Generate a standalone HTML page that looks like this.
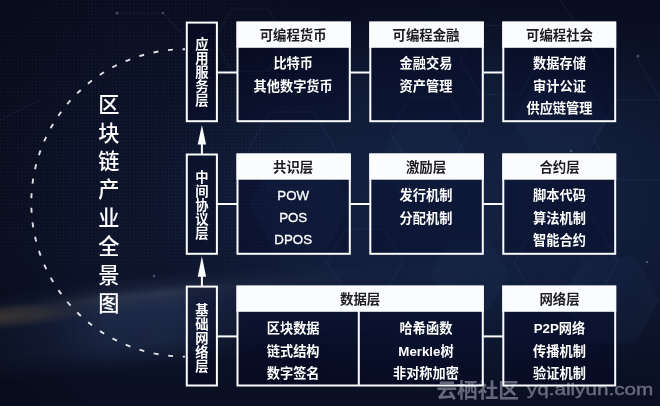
<!DOCTYPE html>
<html lang="zh-CN">
<head>
<meta charset="utf-8">
<title>区块链产业全景图</title>
<style>
html,body{margin:0;padding:0;background:#0b1230;}
body{width:660px;height:406px;overflow:hidden;font-family:"Liberation Sans","Noto Sans CJK SC",sans-serif;}
svg{display:block;will-change:transform;}
svg text{font-family:"Liberation Sans","Noto Sans CJK SC",sans-serif;}
</style>
</head>
<body>
<svg width="660" height="406" viewBox="0 0 660 406" role="img" aria-label="区块链产业全景图">
<defs>
<linearGradient id="bgv" x1="0" y1="0" x2="0" y2="1">
<stop offset="0" stop-color="#090d1f"/>
<stop offset="0.35" stop-color="#0c1329"/>
<stop offset="0.7" stop-color="#0d142b"/>
<stop offset="1" stop-color="#0a0f22"/>
</linearGradient>
<radialGradient id="glow" cx="460" cy="195" r="320" gradientUnits="userSpaceOnUse" gradientTransform="translate(460 195) scale(1 .62) translate(-460 -195)">
<stop offset="0" stop-color="#1a3058" stop-opacity=".5"/>
<stop offset="0.55" stop-color="#1a3058" stop-opacity=".34"/>
<stop offset="1" stop-color="#1a3058" stop-opacity="0"/>
</radialGradient>
<linearGradient id="hz" gradientUnits="userSpaceOnUse" x1="0" y1="290" x2="0" y2="385" gradientTransform="rotate(-6 0 310)">
<stop offset="0" stop-color="#6c7c9c" stop-opacity="0"/>
<stop offset="0.12" stop-color="#6c7c9c" stop-opacity=".1"/>
<stop offset="0.21" stop-color="#7c8ca8" stop-opacity=".27"/>
<stop offset="0.29" stop-color="#4a5e82" stop-opacity=".36"/>
<stop offset="0.38" stop-color="#30426a" stop-opacity=".48"/>
<stop offset="0.72" stop-color="#2a3c60" stop-opacity=".46"/>
<stop offset="1" stop-color="#283a5c" stop-opacity="0"/>
</linearGradient>
<linearGradient id="hzm" x1="0" y1="0" x2="1" y2="0">
<stop offset="0" stop-color="#fff" stop-opacity=".3"/>
<stop offset="0.08" stop-color="#fff" stop-opacity=".5"/>
<stop offset="0.16" stop-color="#fff" stop-opacity=".95"/>
<stop offset="0.26" stop-color="#fff"/>
<stop offset="0.36" stop-color="#fff" stop-opacity=".4"/>
<stop offset="0.55" stop-color="#fff" stop-opacity=".1"/>
<stop offset="1" stop-color="#fff" stop-opacity="0"/>
</linearGradient>
<mask id="hzmask"><rect width="660" height="406" fill="url(#hzm)"/></mask>
<radialGradient id="orange" cx="0" cy="317" r="85" gradientUnits="userSpaceOnUse" gradientTransform="translate(0 317) rotate(-4) scale(1 .15) translate(0 -317)">
<stop offset="0" stop-color="#6e5c40" stop-opacity=".42"/>
<stop offset="0.5" stop-color="#6e5c40" stop-opacity=".25"/>
<stop offset="1" stop-color="#6e5c40" stop-opacity="0"/>
</radialGradient>
<linearGradient id="ld" x1="0" y1="0" x2="1" y2="0"><stop offset="0" stop-color="#04060f" stop-opacity=".4"/><stop offset="1" stop-color="#04060f" stop-opacity="0"/></linearGradient>
<pattern id="dots" width="3.5" height="3.5" patternUnits="userSpaceOnUse">
<rect x="0" y="0" width="1.6" height="1.6" fill="#8fa0d0" opacity=".07"/>
</pattern>
<radialGradient id="dm" cx="150" cy="150" r="330" gradientUnits="userSpaceOnUse">
<stop offset="0" stop-color="#fff"/>
<stop offset="0.45" stop-color="#fff" stop-opacity=".8"/>
<stop offset="0.75" stop-color="#fff" stop-opacity=".25"/>
<stop offset="1" stop-color="#fff" stop-opacity="0"/>
</radialGradient>
<linearGradient id="dm2" x1="0" y1="0" x2="0" y2="1"><stop offset="0" stop-color="#000" stop-opacity="0"/><stop offset="0.62" stop-color="#000" stop-opacity="0"/><stop offset="0.72" stop-color="#000" stop-opacity="1"/></linearGradient>
<mask id="dmask"><rect width="660" height="406" fill="url(#dm)"/><rect width="660" height="406" fill="url(#dm2)"/></mask>
</defs>
<rect width="660" height="406" fill="url(#bgv)"/>
<rect width="660" height="406" fill="url(#glow)"/>
<rect width="120" height="406" fill="url(#ld)"/>
<rect width="660" height="406" fill="url(#dots)" mask="url(#dmask)"/>
<path d="M471.0 160.0L448.0 199.8L402.0 199.8L379.0 160.0L402.0 120.2L448.0 120.2ZM352.0 205.0L326.0 250.0L274.0 250.0L248.0 205.0L274.0 160.0L326.0 160.0ZM608.0 120.0L584.0 161.6L536.0 161.6L512.0 120.0L536.0 78.4L584.0 78.4ZM660.0 300.0L635.0 343.3L585.0 343.3L560.0 300.0L585.0 256.7L635.0 256.7ZM510.0 275.0L490.0 309.6L450.0 309.6L430.0 275.0L450.0 240.4L490.0 240.4Z" fill="#5f86d6" fill-opacity=".045"/>
<g fill="none" stroke="#6f8fd0" stroke-opacity=".09" stroke-width="1.2"><path d="M336.0 150.0L314.0 188.1L270.0 188.1L248.0 150.0L270.0 111.9L314.0 111.9ZM470.0 132.0L450.0 166.6L410.0 166.6L390.0 132.0L410.0 97.4L450.0 97.4ZM618.0 262.0L592.0 307.0L540.0 307.0L514.0 262.0L540.0 217.0L592.0 217.0ZM686.0 140.0L663.0 179.8L617.0 179.8L594.0 140.0L617.0 100.2L663.0 100.2ZM403.0 262.0L384.0 294.9L346.0 294.9L327.0 262.0L346.0 229.1L384.0 229.1ZM540.0 60.0L520.0 94.6L480.0 94.6L460.0 60.0L480.0 25.4L520.0 25.4ZM286.0 40.0L268.0 71.2L232.0 71.2L214.0 40.0L232.0 8.8L268.0 8.8Z"/><path d="M117 13H163L182 34M560 0L600 60M636 56L660 100M0 120L40 100"/></g>
<g fill="#9fb4e8" opacity=".35"><circle cx="117" cy="13" r="1.6"/><circle cx="163" cy="13" r="1.2"/><circle cx="638" cy="56" r="1.5"/><circle cx="154" cy="276" r="1.4"/><circle cx="571" cy="151" r="1.2"/><circle cx="647" cy="262" r="1.2"/></g>
<rect x="-50" y="200" width="800" height="260" fill="url(#hz)" mask="url(#hzmask)"/>
<rect width="200" height="406" fill="url(#orange)"/>

<filter id="soft" x="-2%" y="-2%" width="104%" height="104%"><feGaussianBlur stdDeviation="0.45"/></filter>
<g filter="url(#soft)">
<path d="M185 49.20A153.7 153.7 0 0 0 185 356.60" fill="none" stroke="#fbfcfe" stroke-width="1.9" stroke-dasharray="5 9.632" stroke-dashoffset="2.5" stroke-linecap="butt" stroke-opacity=".88"/>
<rect x="186.80" y="22.60" width="30.10" height="98.60" fill="rgba(5,10,32,0.25)" stroke="#fbfcfe" stroke-width="2"/>
<rect x="186.80" y="154.50" width="30.10" height="99.30" fill="rgba(5,10,32,0.25)" stroke="#fbfcfe" stroke-width="2"/>
<rect x="186.80" y="286.60" width="30.10" height="98.90" fill="rgba(5,10,32,0.25)" stroke="#fbfcfe" stroke-width="2"/>
<rect x="237.50" y="22.60" width="112.30" height="98.60" fill="rgba(5,10,32,0.27)" stroke="#fbfcfe" stroke-width="2"/>
<rect x="236.50" y="21.60" width="114.30" height="26.20" fill="#fbfcfe"/>
<rect x="370.30" y="22.60" width="112.50" height="98.60" fill="rgba(5,10,32,0.27)" stroke="#fbfcfe" stroke-width="2"/>
<rect x="369.30" y="21.60" width="114.50" height="26.20" fill="#fbfcfe"/>
<rect x="503.30" y="22.60" width="111.90" height="98.60" fill="rgba(5,10,32,0.27)" stroke="#fbfcfe" stroke-width="2"/>
<rect x="502.30" y="21.60" width="113.90" height="26.20" fill="#fbfcfe"/>
<rect x="217.40" y="71.50" width="19.60" height="2" fill="#fbfcfe"/>
<rect x="350.30" y="71.50" width="19.50" height="2" fill="#fbfcfe"/>
<rect x="483.30" y="71.50" width="19.50" height="2" fill="#fbfcfe"/>
<rect x="237.50" y="154.50" width="112.30" height="99.30" fill="rgba(5,10,32,0.27)" stroke="#fbfcfe" stroke-width="2"/>
<rect x="236.50" y="153.50" width="114.30" height="26.20" fill="#fbfcfe"/>
<rect x="370.30" y="154.50" width="112.50" height="99.30" fill="rgba(5,10,32,0.27)" stroke="#fbfcfe" stroke-width="2"/>
<rect x="369.30" y="153.50" width="114.50" height="26.20" fill="#fbfcfe"/>
<rect x="503.30" y="154.50" width="111.90" height="99.30" fill="rgba(5,10,32,0.27)" stroke="#fbfcfe" stroke-width="2"/>
<rect x="502.30" y="153.50" width="113.90" height="26.20" fill="#fbfcfe"/>
<rect x="217.40" y="203.00" width="19.60" height="2" fill="#fbfcfe"/>
<rect x="350.30" y="203.00" width="19.50" height="2" fill="#fbfcfe"/>
<rect x="483.30" y="203.00" width="19.50" height="2" fill="#fbfcfe"/>
<rect x="237.50" y="286.60" width="245.30" height="98.90" fill="rgba(5,10,32,0.27)" stroke="#fbfcfe" stroke-width="2"/>
<rect x="236.50" y="285.60" width="247.30" height="26.20" fill="#fbfcfe"/>
<rect x="503.30" y="286.60" width="111.90" height="98.90" fill="rgba(5,10,32,0.27)" stroke="#fbfcfe" stroke-width="2"/>
<rect x="502.30" y="285.60" width="113.90" height="26.20" fill="#fbfcfe"/>
<rect x="357.80" y="311.30" width="2" height="74.70" fill="#fbfcfe"/>
<rect x="217.40" y="335.40" width="19.60" height="2" fill="#fbfcfe"/>
<rect x="483.30" y="335.40" width="19.50" height="2" fill="#fbfcfe"/>
<path d="M201.9 125.00L206.1 144.60H202.9V154.50H200.9V144.60H197.70000000000002Z" fill="#fbfcfe"/>
<path d="M201.9 256.20L206.1 276.70H202.9V286.60H200.9V276.70H197.70000000000002Z" fill="#fbfcfe"/>
<g fill="#fff" aria-label="应用服务层"><text font-size="13.3" font-weight="bold"><tspan x="195.15" y="49.35">应</tspan><tspan x="195.15" y="63.35">用</tspan><tspan x="195.15" y="77.35">服</tspan><tspan x="195.15" y="91.35">务</tspan><tspan x="195.15" y="105.35">层</tspan></text></g>
<g fill="#fff" aria-label="中间协议层"><text font-size="13.3" font-weight="bold"><tspan x="195.15" y="181.85">中</tspan><tspan x="195.15" y="195.85">间</tspan><tspan x="195.15" y="209.85">协</tspan><tspan x="195.15" y="223.85">议</tspan><tspan x="195.15" y="237.85">层</tspan></text></g>
<g fill="#fff" aria-label="基础网络层"><text font-size="13.3" font-weight="bold"><tspan x="195.15" y="314.55">基</tspan><tspan x="195.15" y="328.55">础</tspan><tspan x="195.15" y="342.55">网</tspan><tspan x="195.15" y="356.55">络</tspan><tspan x="195.15" y="370.55">层</tspan></text></g>
<g fill="#1b1b22" aria-label="可编程货币"><text x="259.70" y="40.39" font-size="13.4" font-weight="bold">可编程货币</text></g>
<g fill="#1b1b22" aria-label="可编程金融"><text x="392.50" y="40.39" font-size="13.4" font-weight="bold">可编程金融</text></g>
<g fill="#1b1b22" aria-label="可编程社会"><text x="526.00" y="40.39" font-size="13.4" font-weight="bold">可编程社会</text></g>
<g fill="#1b1b22" aria-label="共识层"><text x="273.10" y="172.29" font-size="13.4" font-weight="bold">共识层</text></g>
<g fill="#1b1b22" aria-label="激励层"><text x="405.90" y="172.29" font-size="13.4" font-weight="bold">激励层</text></g>
<g fill="#1b1b22" aria-label="合约层"><text x="539.40" y="172.29" font-size="13.4" font-weight="bold">合约层</text></g>
<g fill="#1b1b22" aria-label="数据层"><text x="340.05" y="304.39" font-size="13.4" font-weight="bold">数据层</text></g>
<g fill="#1b1b22" aria-label="网络层"><text x="539.40" y="304.39" font-size="13.4" font-weight="bold">网络层</text></g>
<g fill="#fff" aria-label="比特币"><text x="273.40" y="68.22" font-size="13.2" font-weight="bold">比特币</text></g>
<g fill="#fff" aria-label="其他数字货币"><text x="253.60" y="90.72" font-size="13.2" font-weight="bold">其他数字货币</text></g>
<g fill="#fff" aria-label="金融交易"><text x="399.60" y="68.22" font-size="13.2" font-weight="bold">金融交易</text></g>
<g fill="#fff" aria-label="资产管理"><text x="399.60" y="90.72" font-size="13.2" font-weight="bold">资产管理</text></g>
<g fill="#fff" aria-label="数据存储"><text x="533.10" y="68.22" font-size="13.2" font-weight="bold">数据存储</text></g>
<g fill="#fff" aria-label="审计公证"><text x="533.10" y="90.72" font-size="13.2" font-weight="bold">审计公证</text></g>
<g fill="#fff" aria-label="供应链管理"><text x="526.50" y="112.72" font-size="13.2" font-weight="bold">供应链管理</text></g>
<g fill="#fff" aria-label="POW"><text x="277.32" y="199.86" font-size="13.3" textLength="31.77" lengthAdjust="spacingAndGlyphs" stroke="#fff" stroke-width="0.3">POW</text></g>
<g fill="#fff" aria-label="POS"><text x="279.16" y="222.36" font-size="13.3" textLength="28.09" lengthAdjust="spacingAndGlyphs" stroke="#fff" stroke-width="0.3">POS</text></g>
<g fill="#fff" aria-label="DPOS"><text x="274.35" y="244.36" font-size="13.3" textLength="37.69" lengthAdjust="spacingAndGlyphs" stroke="#fff" stroke-width="0.3">DPOS</text></g>
<g fill="#fff" aria-label="发行机制"><text x="399.60" y="200.12" font-size="13.2" font-weight="bold">发行机制</text></g>
<g fill="#fff" aria-label="分配机制"><text x="399.60" y="222.62" font-size="13.2" font-weight="bold">分配机制</text></g>
<g fill="#fff" aria-label="脚本代码"><text x="533.10" y="200.12" font-size="13.2" font-weight="bold">脚本代码</text></g>
<g fill="#fff" aria-label="算法机制"><text x="533.10" y="222.62" font-size="13.2" font-weight="bold">算法机制</text></g>
<g fill="#fff" aria-label="智能合约"><text x="533.10" y="244.62" font-size="13.2" font-weight="bold">智能合约</text></g>
<g fill="#fff" aria-label="区块数据"><text x="266.80" y="333.32" font-size="13.2" font-weight="bold">区块数据</text></g>
<g fill="#fff" aria-label="链式结构"><text x="266.80" y="356.02" font-size="13.2" font-weight="bold">链式结构</text></g>
<g fill="#fff" aria-label="数字签名"><text x="266.80" y="377.72" font-size="13.2" font-weight="bold">数字签名</text></g>
<g fill="#fff" aria-label="哈希函数"><text x="399.60" y="333.32" font-size="13.2" font-weight="bold">哈希函数</text></g>
<g fill="#fff" aria-label="Merkle树"><text x="398.33" y="355.76" font-size="13.3" font-weight="bold" textLength="42.14" lengthAdjust="spacingAndGlyphs" stroke="#fff" stroke-width="0">Merkle</text><text x="440.47" y="356.02" font-size="13.2" font-weight="bold">树</text></g>
<g fill="#fff" aria-label="非对称加密"><text x="393.00" y="377.72" font-size="13.2" font-weight="bold">非对称加密</text></g>
<g fill="#fff" aria-label="P2P网络"><text x="533.73" y="333.06" font-size="13.3" font-weight="bold" textLength="25.14" lengthAdjust="spacingAndGlyphs" stroke="#fff" stroke-width="0">P2P</text><text x="558.87" y="333.32" font-size="13.2" font-weight="bold">网络</text></g>
<g fill="#fff" aria-label="传播机制"><text x="533.10" y="356.02" font-size="13.2" font-weight="bold">传播机制</text></g>
<g fill="#fff" aria-label="验证机制"><text x="533.10" y="377.72" font-size="13.2" font-weight="bold">验证机制</text></g>
<g fill="#fff" aria-label="区块链产业全景图"><text font-size="21.2" font-weight="500"><tspan x="98.30" y="112.08">区</tspan><tspan x="98.30" y="140.53">块</tspan><tspan x="98.30" y="168.98">链</tspan><tspan x="98.30" y="197.43">产</tspan><tspan x="98.30" y="225.88">业</tspan><tspan x="98.30" y="254.33">全</tspan><tspan x="98.30" y="282.78">景</tspan><tspan x="98.30" y="311.23">图</tspan></text></g>
<g fill="#eef0ff" opacity="0.4" aria-label="云栖社区"><text x="436.50" y="397.73" font-size="20.6" font-weight="bold">云栖社区</text></g>
<text x="526.8" y="395.2" font-size="17" fill="#eef0ff" opacity="0.4" textLength="126.5" lengthAdjust="spacingAndGlyphs" stroke="#eef0ff" stroke-width=".35">yq.aliyun.com</text>
</g>
</svg>
</body>
</html>
